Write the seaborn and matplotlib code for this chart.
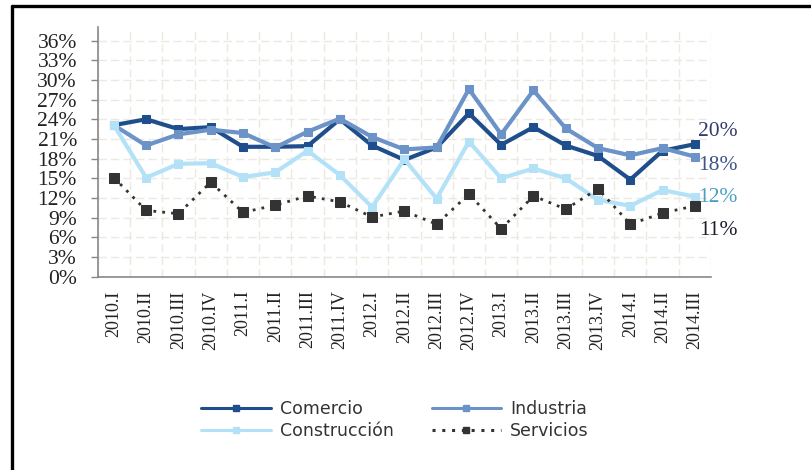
import pandas as pd
import matplotlib
matplotlib.use("Agg")
import matplotlib.pyplot as plt
from matplotlib.lines import Line2D
import seaborn as sns

quarters = ["2010.I", "2010.II", "2010.III", "2010.IV",
            "2011.I", "2011.II", "2011.III", "2011.IV",
            "2012.I", "2012.II", "2012.III", "2012.IV",
            "2013.I", "2013.II", "2013.III", "2013.IV",
            "2014.I", "2014.II", "2014.III"]

comercio = [23.1, 24.0, 22.5, 22.8, 19.8, 19.8, 19.9, 24.0, 20.0, 17.8,
            19.7, 24.9, 20.1, 22.8, 20.0, 18.4, 14.8, 19.2, 20.2]
industria = [23.1, 20.0, 21.7, 22.4, 21.9, 19.7, 22.1, 24.1, 21.3, 19.4,
             19.7, 28.6, 21.7, 28.4, 22.6, 19.6, 18.5, 19.6, 18.3]
construccion = [23.1, 15.1, 17.2, 17.3, 15.2, 15.9, 19.2, 15.5, 10.6, 17.9,
                11.9, 20.6, 15.0, 16.5, 15.0, 11.7, 10.8, 13.2, 12.2]
servicios = [15.1, 10.1, 9.6, 14.4, 9.8, 10.9, 12.3, 11.4, 9.1, 10.0,
             8.0, 12.6, 7.3, 12.3, 10.3, 13.4, 8.0, 9.7, 10.8]

series_names = ["Comercio", "Industria", "Construcción", "Servicios"]
end_labels = ["20%", "18%", "12%", "11%"]

df = pd.DataFrame({"pos": range(len(quarters)), "quarter": quarters,
                   "Comercio": comercio, "Industria": industria,
                   "Construcción": construccion, "Servicios": servicios})

colors = {"Comercio": "#1f4e8c", "Industria": "#6b93c7",
          "Construcción": "#b3e2f8", "Servicios": "#333333"}
label_colors = ["#343b6c", "#3d5487", "#4a9fc4", "#1c1c2c"]
label_shift = [1.9, -1.3, -0.2, -3.7]
dotted = (0, (1, 2.2))

sns.set_style("white")
plt.rcParams['font.family'] = ['DejaVu Sans']

fig = plt.figure(figsize=(8.11, 4.70), dpi=100)
ax = fig.add_axes([0.1205, 0.4113, 0.7562, 0.5304])

for name in series_names:
    if name == "Servicios":
        sns.lineplot(data=df, x="pos", y=name, ax=ax, color=colors[name],
                     linewidth=2.0, linestyle=dotted, marker="s", markersize=6.5,
                     markeredgecolor=colors[name], zorder=3, legend=False)
    else:
        sns.lineplot(data=df, x="pos", y=name, ax=ax, color=colors[name],
                     linewidth=3.0, marker="s", markersize=6,
                     markeredgecolor=colors[name], zorder=3, legend=False)

# y axis
ax.set_ylim(0, 38)
ax.set_yticks(range(0, 37, 3))
ax.set_yticklabels([f"{v}%" for v in range(0, 37, 3)], family="Liberation Serif",
                   fontsize=15.5, color="#222222")
# x axis: labels at centres, ticks/grid at boundaries
ax.set_xlim(-0.5, len(quarters) - 0.5)
ax.set_xticks(range(len(quarters)))
ax.set_xticklabels(quarters, rotation=90, family="Liberation Serif", fontsize=13,
                   color="#222222")
ax.set_xticks([i - 0.5 for i in range(len(quarters) + 1)], minor=True)
ax.tick_params(axis="x", which="major", length=0, pad=10)
ax.tick_params(axis="x", which="minor", length=5, color="#888888", width=1)
ax.tick_params(axis="y", which="major", length=5, color="#888888", width=1, pad=10,
               left=True)
ax.set_xlabel("")
ax.set_ylabel("")

ax.grid(False)
ax.grid(axis="y", which="major", color="#ecEAE0", linestyle=(0, (6, 3)), linewidth=1.0)
ax.grid(axis="x", which="minor", color="#ecEAE0", linestyle=(0, (6, 3)), linewidth=1.0)
ax.set_axisbelow(True)

for side in ["top", "right"]:
    ax.spines[side].set_visible(False)
for side in ["left", "bottom"]:
    ax.spines[side].set_color("#888888")
    ax.spines[side].set_linewidth(1.2)

# end-of-series labels
for name, lab, col, dy in zip(series_names, end_labels, label_colors, label_shift):
    ax.text(19.33, df[name].iloc[-1] + dy, lab, ha="right", va="center",
            family="Liberation Serif", fontsize=15.5, color=col, clip_on=False)

# legend below the chart (row-wise order)
handles = {}
for name in series_names:
    ls = dotted if name == "Servicios" else "-"
    handles[name] = Line2D([], [], color=colors[name], linewidth=2.2, linestyle=ls,
                           marker="s", markersize=5, markeredgecolor=colors[name])
order = ["Comercio", "Construcción", "Industria", "Servicios"]
fig.legend([handles[n] for n in order], order,
           loc="center", bbox_to_anchor=(0.487, 0.106), ncol=2, frameon=False,
           fontsize=12.5, handlelength=4.0, columnspacing=2.2, handletextpad=0.5,
           labelspacing=0.25, labelcolor="#333333")

# frame lines (top and left)
fig.add_artist(Line2D([0.0148, 1.0], [0.9875, 0.9875], transform=fig.transFigure,
                      color="black", linewidth=2.4))
fig.add_artist(Line2D([0.0148, 0.0148], [0.0, 0.9875], transform=fig.transFigure,
                      color="black", linewidth=2.4))

fig.savefig("out.png", dpi=100)
